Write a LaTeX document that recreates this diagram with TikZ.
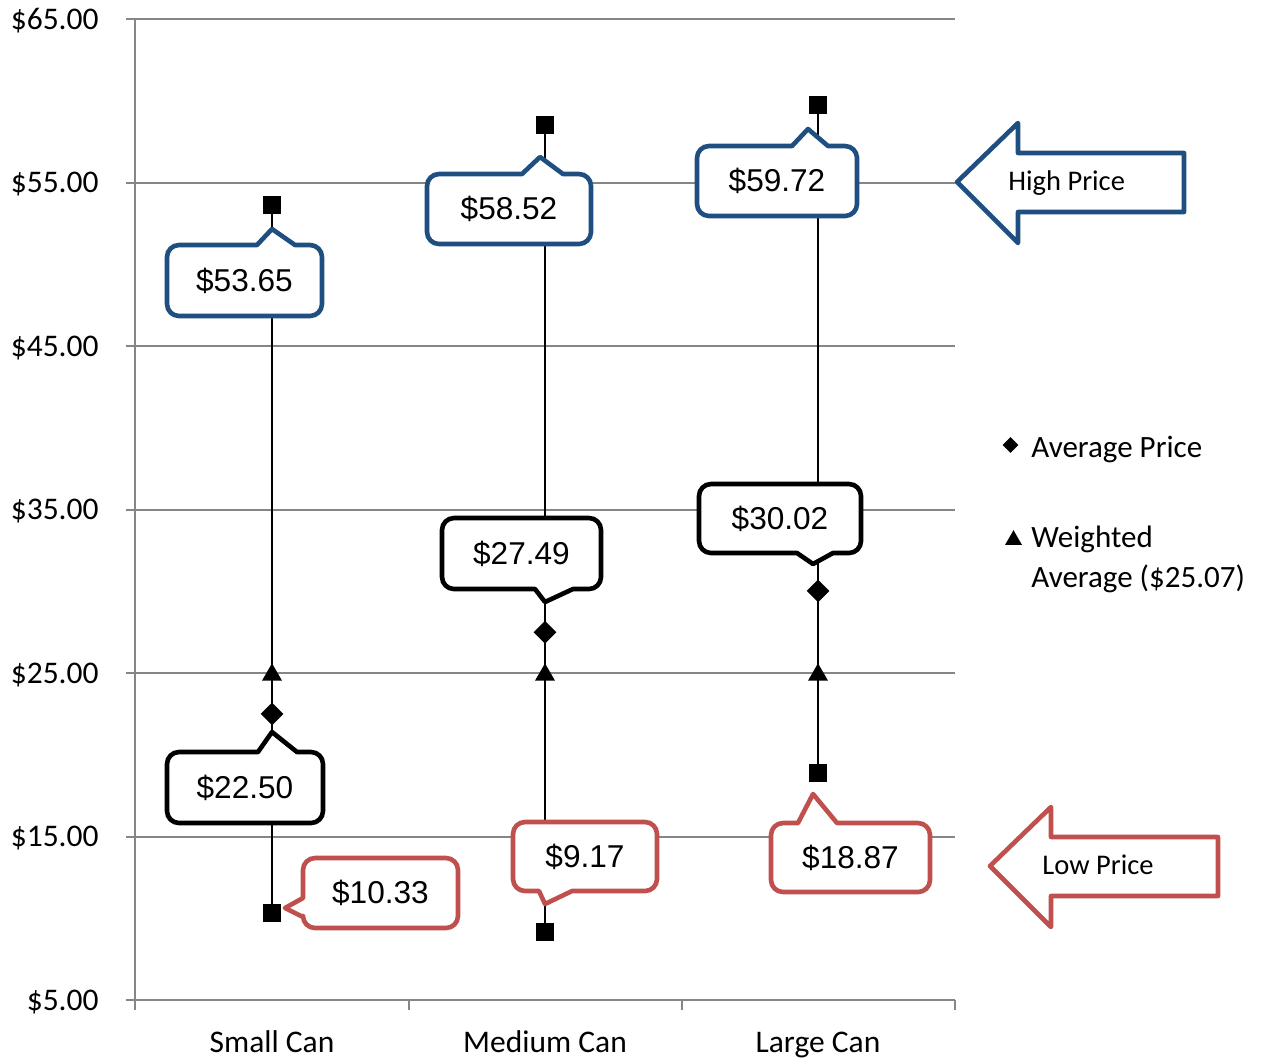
\documentclass[tikz,border=0pt]{standalone}
\usepackage{fontspec}
\setmainfont{Carlito}
\newfontfamily\arialf{Liberation Sans}
\usetikzlibrary{shapes.geometric}
\definecolor{hiblue}{HTML}{1F4E80}
\definecolor{lored}{HTML}{C0504D}
\definecolor{gridgray}{HTML}{868686}
\begin{document}
\begin{tikzpicture}[x=0.5pt,y=-0.5pt,
  grid/.style={draw=gridgray, line width=1pt},
  dataline/.style={draw=black, line width=0.8pt},
  sq/.style={rectangle, fill=black, minimum size=9pt, inner sep=0pt},
  dia/.style={diamond, fill=black, minimum size=11.5pt, inner sep=0pt},
  tri/.style={regular polygon, regular polygon sides=3, fill=black, minimum size=11.5pt, inner sep=0pt},
  callout/.style={line width=2.3pt, fill=white, line join=round},
  hical/.style={callout, draw=hiblue},
  local/.style={callout, draw=lored},
  avcal/.style={callout, draw=black},
  val/.style={font=\arialf\fontsize{15.8pt}{18pt}\selectfont, inner sep=0pt},
  ylab/.style={font=\fontsize{15.75pt}{18pt}\selectfont, anchor=base east, inner sep=0pt},
  xlab/.style={font=\fontsize{15.75pt}{18pt}\selectfont, anchor=base, inner sep=0pt},
  leg/.style={font=\fontsize{15.5pt}{18pt}\selectfont, anchor=base west, inner sep=0pt},
  bigarrow/.style={line width=2.3pt, fill=white, line join=round},
  arrtxt/.style={font=\fontsize{14.25pt}{17pt}\selectfont, anchor=base west, inner sep=0pt}
]
\useasboundingbox (0,0) rectangle (1269,1061);

% gridlines and axes
\foreach \yy in {19,182.5,346,509.5,673,836.5}
  \draw[grid] (126,\yy) -- (955,\yy);
\draw[grid] (135,19) -- (135,1000);
\draw[grid] (126,1000) -- (955,1000);
\foreach \xx in {135,409,682,955}
  \draw[grid] (\xx,1000) -- (\xx,1010);

% axis labels
\node[ylab] (y65) at (99,29) {\$65.00};
\node[ylab] (y55) at (99,192.5) {\$55.00};
\node[ylab] (y45) at (99,356) {\$45.00};
\node[ylab] (y35) at (99,519.5) {\$35.00};
\node[ylab] (y25) at (99,683) {\$25.00};
\node[ylab] (y15) at (99,846.5) {\$15.00};
\node[ylab] (y05) at (99,1010) {\$5.00};
\node[xlab] (xs) at (272,1052) {Small Can};
\node[xlab] (xm) at (545,1052) {Medium Can};
\node[xlab] (xl) at (818,1052) {Large Can};

% data markers
\node[sq] (h1) at (272,204.6) {};
\node[sq] (l1) at (272,912.9) {};
\node[sq] (h2) at (545,124.9) {};
\node[sq] (l2) at (545,931.8) {};
\node[sq] (h3) at (818,105.3) {};
\node[sq] (l3) at (818,773.2) {};
\draw[dataline] (h1.center) -- (l1.center);
\draw[dataline] (h2.center) -- (l2.center);
\draw[dataline] (h3.center) -- (l3.center);
\node[dia] (a1) at (272,713.9) {};
\node[dia] (a2) at (545,632.3) {};
\node[dia] (a3) at (818,590.9) {};
\node[tri] (w1) at (272,674.8) {};
\node[tri] (w2) at (545,674.8) {};
\node[tri] (w3) at (818,674.8) {};

% high callouts
\draw[hical] (295,245) [rounded corners=6pt] -- (322,245) -- (322,316) -- (167,316) -- (167,245) [sharp corners] -- (257,245) -- (272,229) -- cycle;
\node[val] (c1) at (244.5,280.5) {\$53.65};
\draw[hical] (563,174) [rounded corners=6pt] -- (591,174) -- (591,244) -- (427,244) -- (427,174) [sharp corners] -- (522,174) -- (540,157) -- cycle;
\node[val] (c2) at (509,209) {\$58.52};
\draw[hical] (828,146) [rounded corners=6pt] -- (857,146) -- (857,216) -- (697,216) -- (697,146) [sharp corners] -- (792,146) -- (808,129) -- cycle;
\node[val] (c3) at (777,181) {\$59.72};

% average callouts
\draw[avcal] (297,752) [rounded corners=6pt] -- (323,752) -- (323,823) -- (167,823) -- (167,752) [sharp corners] -- (258,752) -- (272,732) -- cycle;
\node[val] (c4) at (245,787.5) {\$22.50};
\draw[avcal] (535,589) [rounded corners=6pt] -- (442,589) -- (442,518) -- (601,518) -- (601,589) [sharp corners] -- (573,589) -- (545,602) -- cycle;
\node[val] (c5) at (521.5,553.5) {\$27.49};
\draw[avcal] (797,553) [rounded corners=6pt] -- (699,553) -- (699,484) -- (861,484) -- (861,553) [sharp corners] -- (833,553) -- (813,564) -- cycle;
\node[val] (c6) at (780,518.5) {\$30.02};

% low callouts
\draw[local] (303,917) [rounded corners=6pt] -- (303,928) -- (458,928) -- (458,858) -- (303,858) [sharp corners] -- (303,898) -- (285,908) -- cycle;
\node[val] (c7) at (380.5,893) {\$10.33};
\draw[local] (539,891) [rounded corners=6pt] -- (513,891) -- (513,822) -- (657,822) -- (657,891) [sharp corners] -- (572,891) -- (545,904) -- cycle;
\node[val] (c8) at (585,856.5) {\$9.17};
\draw[local] (837,823) [rounded corners=6pt] -- (930,823) -- (930,892) -- (771,892) -- (771,823) [sharp corners] -- (798,823) -- (813,794) -- cycle;
\node[val] (c9) at (850.5,857.5) {\$18.87};

% big arrows
\draw[bigarrow, draw=hiblue] (957,182) -- (1018,123) -- (1018,153) -- (1184,153) -- (1184,212) -- (1018,212) -- (1018,243) -- cycle;
\node[arrtxt] (hp) at (1008,190) {High Price};
\draw[bigarrow, draw=lored] (990,866) -- (1051,807) -- (1051,837) -- (1218,837) -- (1218,896) -- (1051,896) -- (1051,927) -- cycle;
\node[arrtxt] (lp) at (1042,874) {Low Price};

% legend
\node[dia, minimum size=8pt] (ld) at (1010.5,445) {};
\node[leg] (lavg) at (1031,457) {Average Price};
\node[tri, minimum size=9.8pt] (lt) at (1013.5,540) {};
\node[leg] (lw1) at (1031,547) {Weighted};
\node[leg] (lw2) at (1031,587) {Average (\$25.07)};
\end{tikzpicture}
\end{document}
